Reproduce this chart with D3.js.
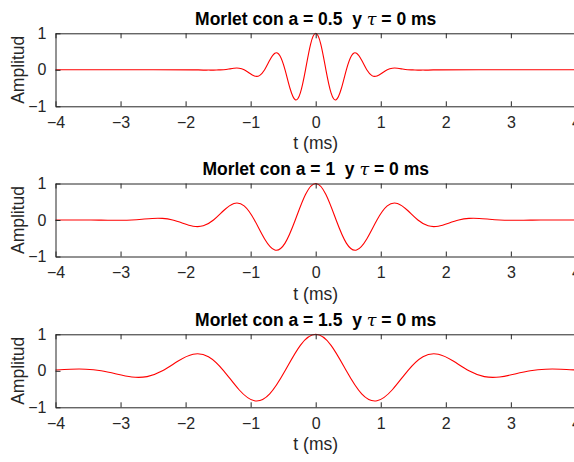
<!DOCTYPE html>
<html>
<head>
<meta charset="utf-8">
<script src="https://cdn.jsdelivr.net/npm/d3@7"></script>
<style>
  body { margin: 0; background: #fff; }
  text { font-family: "Liberation Sans", Arial, sans-serif; }
</style>
</head>
<body>
<div id="vis"></div>
<script>
// frame constants
const FRAME_WIDTH = 574;
const FRAME_HEIGHT = 462;
const LEFT = 55.5, RIGHT = 575.9;
const PANEL_TOPS = [33.3, 183.5, 334.3];
const PANEL_H = 73;

// data
const scales = ["0.5", "1", "1.5"];
const xTicks = [-4, -3, -2, -1, 0, 1, 2, 3, 4];
const yTicks = [-1, 0, 1];

// a = 0.5, [t (ms), amplitude]
const morletA05 = [
  [-4, 0], [-2.5, 0], [-1.885, -0.002], [-1.806, -0.003], [-1.728, -0.008], [-1.649, -0.007], [-1.571, -0.008],
  [-1.492, -0.003], [-1.414, 0.001], [-1.335, 0.020], [-1.257, 0.043], [-1.178, 0.044],
  [-1.100, 0], [-1.021, -0.088], [-0.942, -0.169], [-0.864, -0.159], [-0.785, 0],
  [-0.707, 0.260], [-0.628, 0.454], [-0.550, 0.386], [-0.471, 0], [-0.393, -0.519],
  [-0.314, -0.821], [-0.236, -0.633], [-0.157, 0], [-0.079, 0.698], [0, 1],
  [0.079, 0.698], [0.157, 0], [0.236, -0.633], [0.314, -0.821], [0.393, -0.519],
  [0.471, 0], [0.550, 0.386], [0.628, 0.454], [0.707, 0.260], [0.785, 0],
  [0.864, -0.159], [0.942, -0.169], [1.021, -0.088], [1.100, 0], [1.178, 0.044],
  [1.257, 0.043], [1.335, 0.020], [1.414, 0.001], [1.492, -0.003], [1.571, -0.008],
  [1.649, -0.007], [1.728, -0.008], [1.806, -0.003], [1.885, -0.002], [2.5, 0], [4, 0]
];

// a = 1
const morletA1 = [
  [-4, 0], [-3.770, 0.001], [-3.613, 0.001], [-3.456, 0], [-3.299, -0.003], [-3.142, -0.007],
  [-2.985, -0.008], [-2.827, 0], [-2.670, 0.020], [-2.513, 0.043], [-2.356, 0.044],
  [-2.199, 0], [-2.042, -0.088], [-1.885, -0.169], [-1.728, -0.159], [-1.571, 0],
  [-1.414, 0.260], [-1.257, 0.454], [-1.100, 0.386], [-0.942, 0], [-0.785, -0.519],
  [-0.628, -0.821], [-0.471, -0.633], [-0.314, 0], [-0.157, 0.698], [0, 1],
  [0.157, 0.698], [0.314, 0], [0.471, -0.633], [0.628, -0.821], [0.785, -0.519],
  [0.942, 0], [1.100, 0.386], [1.257, 0.454], [1.414, 0.260], [1.571, 0],
  [1.728, -0.159], [1.885, -0.169], [2.042, -0.088], [2.199, 0], [2.356, 0.044],
  [2.513, 0.043], [2.670, 0.020], [2.827, 0], [2.985, -0.008], [3.142, -0.007],
  [3.299, -0.003], [3.456, 0], [3.613, 0.001], [3.770, 0.001], [4, 0]
];

// a = 1.5
const morletA15 = [
  [-4, 0.021], [-3.770, 0.043], [-3.534, 0.044], [-3.299, 0], [-3.063, -0.088],
  [-2.827, -0.169], [-2.592, -0.159], [-2.356, 0], [-2.121, 0.260], [-1.885, 0.454],
  [-1.649, 0.386], [-1.414, 0], [-1.178, -0.519], [-0.942, -0.821], [-0.707, -0.633],
  [-0.471, 0], [-0.236, 0.698], [0, 1], [0.236, 0.698], [0.471, 0], [0.707, -0.633],
  [0.942, -0.821], [1.178, -0.519], [1.414, 0], [1.649, 0.386], [1.885, 0.454],
  [2.121, 0.260], [2.356, 0], [2.592, -0.159], [2.827, -0.169], [3.063, -0.088],
  [3.299, 0], [3.534, 0.044], [3.770, 0.043], [4, 0.021]
];

const series = [morletA05, morletA1, morletA15];

const FRAME = d3.select("#vis")
  .append("svg")
    .attr("width", FRAME_WIDTH)
    .attr("height", FRAME_HEIGHT);

const X_SCALE = d3.scaleLinear().domain([-4, 4]).range([LEFT, RIGHT]);

series.forEach((data, i) => {
  const top = PANEL_TOPS[i];
  const Y_SCALE = d3.scaleLinear().domain([-1, 1]).range([top + PANEL_H, top]);
  const g = FRAME.append("g");

  // curve
  g.append("path")
    .datum(data)
    .attr("fill", "none")
    .attr("stroke", "#ff0000")
    .attr("stroke-width", 1.1)
    .attr("d", d3.line()
      .x((d) => X_SCALE(d[0]))
      .y((d) => Y_SCALE(d[1]))
      .curve(d3.curveNatural));

  // bottom axis with inner ticks
  const xAxis = g.append("g")
    .attr("transform", "translate(0," + (top + PANEL_H) + ")")
    .call(d3.axisBottom(X_SCALE).tickValues(xTicks).tickSizeInner(-5).tickSizeOuter(0).tickPadding(10.5));
  xAxis.selectAll("text").attr("font-size", "16px").attr("fill", "#262626");

  // top axis (box)
  g.append("g")
    .attr("transform", "translate(0," + top + ")")
    .call(d3.axisTop(X_SCALE).tickValues(xTicks).tickSizeInner(-5).tickSizeOuter(0).tickFormat(""));

  // left axis
  const yAxis = g.append("g")
    .attr("transform", "translate(" + LEFT + ",0)")
    .call(d3.axisLeft(Y_SCALE).tickValues(yTicks).tickSizeInner(-5).tickSizeOuter(0).tickPadding(9)
      .tickFormat(d3.format("d")));
  yAxis.selectAll("text").attr("font-size", "16px").attr("fill", "#262626");

  g.selectAll(".domain").attr("stroke", "#262626");
  g.selectAll(".tick line").attr("stroke", "#262626");
  g.selectAll("text").attr("font-family", "Liberation Sans, Arial, sans-serif");

  // x label
  g.append("text")
    .attr("x", X_SCALE(0))
    .attr("y", top + PANEL_H + 43)
    .attr("text-anchor", "middle")
    .attr("font-size", "17.5px")
    .attr("fill", "#262626")
    .text("t (ms)");

  // y label
  g.append("text")
    .attr("transform", "translate(23.5," + (top + PANEL_H / 2) + ") rotate(-90)")
    .attr("text-anchor", "middle")
    .attr("font-size", "17.5px")
    .attr("fill", "#262626")
    .text("Amplitud");

  // title
  const title = g.append("text")
    .attr("x", X_SCALE(0))
    .attr("y", top - 8.5)
    .attr("text-anchor", "middle")
    .attr("font-size", "17.5px")
    .attr("font-weight", "bold")
    .attr("fill", "#000");
  title.append("tspan").text("Morlet con a = " + scales[i] + "\u00a0\u00a0y ");
  title.append("tspan").attr("font-style", "italic").attr("font-family", "DejaVu Serif, serif").attr("font-weight", "normal").text("\u03c4");
  title.append("tspan").text(" = 0 ms");
});
</script>
</body>
</html>
